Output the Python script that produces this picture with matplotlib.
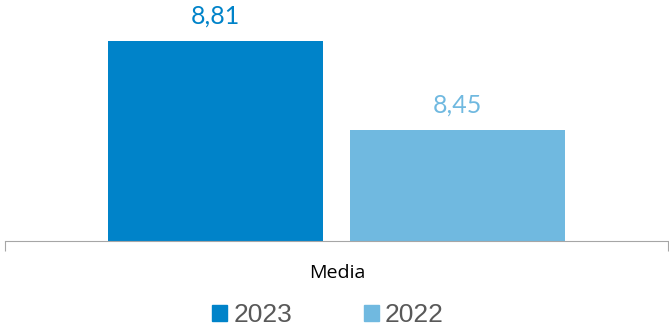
import matplotlib
matplotlib.use('Agg')
import matplotlib.pyplot as plt
from matplotlib.patches import Patch

# valori medi per anno
categorie = ['Media']
anni = ['2023', '2022']
valori = [8.81, 8.45]
colori = ['#0083C9', '#70B9E0']

fig = plt.figure(figsize=(6.69, 3.31), dpi=100)
ax = fig.add_axes([5 / 669, 90.5 / 331, 663 / 669, 240.5 / 331])

larg = 0.324
offs = [-0.1825, 0.1825]
for v, c, o in zip(valori, colori, offs):
    ax.bar(o, v - 8.0, bottom=8.0, width=larg, color=c)
    ax.text(o, v + 0.068, f'{v:.2f}'.replace('.', ','), ha='center', va='baseline',
            color=c, fontsize=18, family='Lato')

ax.set_xlim(-0.5, 0.5)
ax.set_ylim(8.0, 8.975)
for s in ['top', 'right', 'left']:
    ax.spines[s].set_visible(False)
ax.spines['bottom'].set_color('#A6A6A6')
ax.set_yticks([])
ax.set_xticks([-0.5, 0.5])
ax.set_xticklabels(['', ''])
ax.tick_params(axis='x', length=7, color='#A6A6A6')
fig.text(337 / 669, 1 - 273 / 331, categorie[0], ha='center', va='center',
         fontsize=14, color='#000000', family='Open Sans')

handles = [Patch(color=c, label=a) for a, c in zip(anni, colori)]
fig.legend(handles=handles, loc='center', bbox_to_anchor=(328 / 669, 16 / 331), ncol=2,
           frameon=False, handlelength=0.57, handleheight=0.57, handletextpad=0.23,
           columnspacing=2.7, borderpad=0, prop={'family': 'Liberation Sans', 'size': 19},
           labelcolor='#595959')

fig.savefig('out.png', dpi=100)
